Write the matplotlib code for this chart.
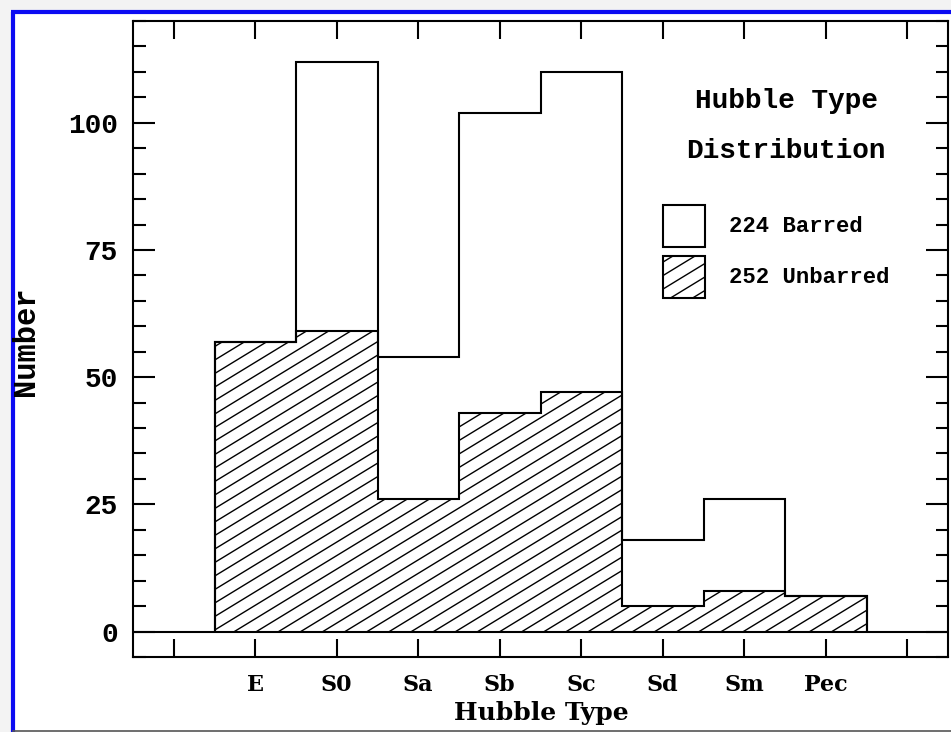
import numpy as np
import matplotlib
matplotlib.use("Agg")
import matplotlib.pyplot as plt
from matplotlib.collections import LineCollection
from matplotlib.lines import Line2D
from matplotlib.patches import Rectangle
from matplotlib.transforms import IdentityTransform
from matplotlib.ticker import MultipleLocator, FixedLocator

# Galaxy counts per Hubble type
hubble_types = ["E", "S0", "Sa", "Sb", "Sc", "Sd", "Sm", "Pec"]
unbarred = np.array([57, 59, 26, 43, 47, 5, 8, 7])
barred = np.array([0, 53, 28, 59, 63, 13, 18, 0])
legend_labels = ["224 Barred", "252 Unbarred"]
title_lines = ["Hubble Type", "Distribution"]

W, H = 951, 732
fig = plt.figure(figsize=(W / 100, H / 100), dpi=100)
fig.patch.set_facecolor("#f3f3f3")

# white page inside the blue border
fig.add_artist(Rectangle((13, 0), W, H - 12, transform=IdentityTransform(),
                         facecolor="white", edgecolor="none", zorder=-10))
blue = "#0b0bf2"
fig.add_artist(Line2D([13, 13], [0, H - 12], transform=IdentityTransform(),
                      color=blue, lw=3.0, solid_capstyle="butt"))
fig.add_artist(Line2D([11, W], [H - 12, H - 12], transform=IdentityTransform(),
                      color=blue, lw=3.0, solid_capstyle="butt"))
fig.add_artist(Line2D([13, W], [1.5, 1.5], transform=IdentityTransform(),
                      color="#555555", lw=1.2))

ax_l, ax_r, ax_t, ax_b = 133, 948, 21, 657
ax = fig.add_axes([ax_l / W, (H - ax_b) / H, (ax_r - ax_l) / W, (ax_b - ax_t) / H])
ax.set_facecolor("white")

mono = "Liberation Mono"
serif = "DejaVu Serif"
lw = 1.5

positions = np.arange(1, len(hubble_types) + 1)
edges = np.append(positions - 0.5, positions[-1] + 0.5)
total = unbarred + barred

# hatched region for unbarred galaxies
fill = ax.stairs(unbarred, edges, baseline=0, fill=True,
                 facecolor="none", edgecolor="none")


def hatch_lines(clip_patch):
    slope, step = 0.61, 13.5
    segs = [[(0, c), (W, c + slope * W)] for c in np.arange(-650, H + 20, step)]
    lc = LineCollection(segs, colors="black", linewidths=1.0,
                        transform=IdentityTransform())
    ax.add_collection(lc, autolim=False)
    lc.set_clip_path(clip_patch)
    return lc


hatch_lines(fill)
ax.stairs(unbarred, edges, baseline=0, color="black", lw=lw)
ax.stairs(total, edges, baseline=0, color="black", lw=lw)
ax.axhline(0, color="black", lw=lw)

ax.set_xlim(-0.5, 9.5)
ax.set_ylim(-5, 120)

# axes frame and ticks
for sp in ax.spines.values():
    sp.set_linewidth(lw)
ax.xaxis.set_major_locator(FixedLocator(np.arange(0, 10)))
ax.set_xticklabels([""] + hubble_types + [""], fontfamily=serif,
                   fontweight="bold", fontsize=16)
ax.yaxis.set_major_locator(MultipleLocator(25))
ax.yaxis.set_minor_locator(MultipleLocator(5))
for lab in ax.get_yticklabels():
    lab.set_fontfamily(mono)
    lab.set_fontweight("bold")
    lab.set_fontsize(20)
ax.tick_params(axis="x", direction="in", top=True, bottom=True, length=13,
               width=lw, pad=12)
ax.tick_params(axis="y", which="major", direction="in", left=True, right=True,
               length=16, width=lw, pad=11)
ax.tick_params(axis="y", which="minor", direction="in", left=True, right=True,
               length=9, width=lw)

# axis titles
fig.text(541 / W, 1 - 720 / H, "Hubble Type", ha="center", va="baseline",
         fontfamily=serif, fontweight="bold", fontsize=18)
fig.text(26 / W, 1 - 341 / H, "Number", ha="center", va="center",
         rotation=90, fontfamily=mono, fontweight="bold", fontsize=22)

# title and key
def axfrac(px, py):
    return (px - ax_l) / (ax_r - ax_l), (ax_b - py) / (ax_b - ax_t)


for txt, py in zip(title_lines, [101, 151]):
    x, y = axfrac(786, py)
    ax.text(x, y, txt, transform=ax.transAxes, ha="center", va="center",
            fontfamily=mono, fontweight="bold", fontsize=20)

box_w, box_h = 42, 42
for i, (label, top) in enumerate(zip(legend_labels, [205, 256])):
    x0, y0 = axfrac(663, top + box_h)
    bw = box_w / (ax_r - ax_l)
    bh = box_h / (ax_b - ax_t)
    rect = Rectangle((x0, y0), bw, bh, transform=ax.transAxes,
                     facecolor="white", edgecolor="black", lw=lw, zorder=3)
    ax.add_patch(rect)
    if i == 1:
        lc = hatch_lines(rect)
        lc.set_zorder(4)
    tx, ty = axfrac(729, top + box_h / 2)
    ax.text(tx, ty, label, transform=ax.transAxes, ha="left", va="center",
            fontfamily=mono, fontweight="bold", fontsize=16)

fig.savefig("out.png", dpi=100, facecolor=fig.get_facecolor())
